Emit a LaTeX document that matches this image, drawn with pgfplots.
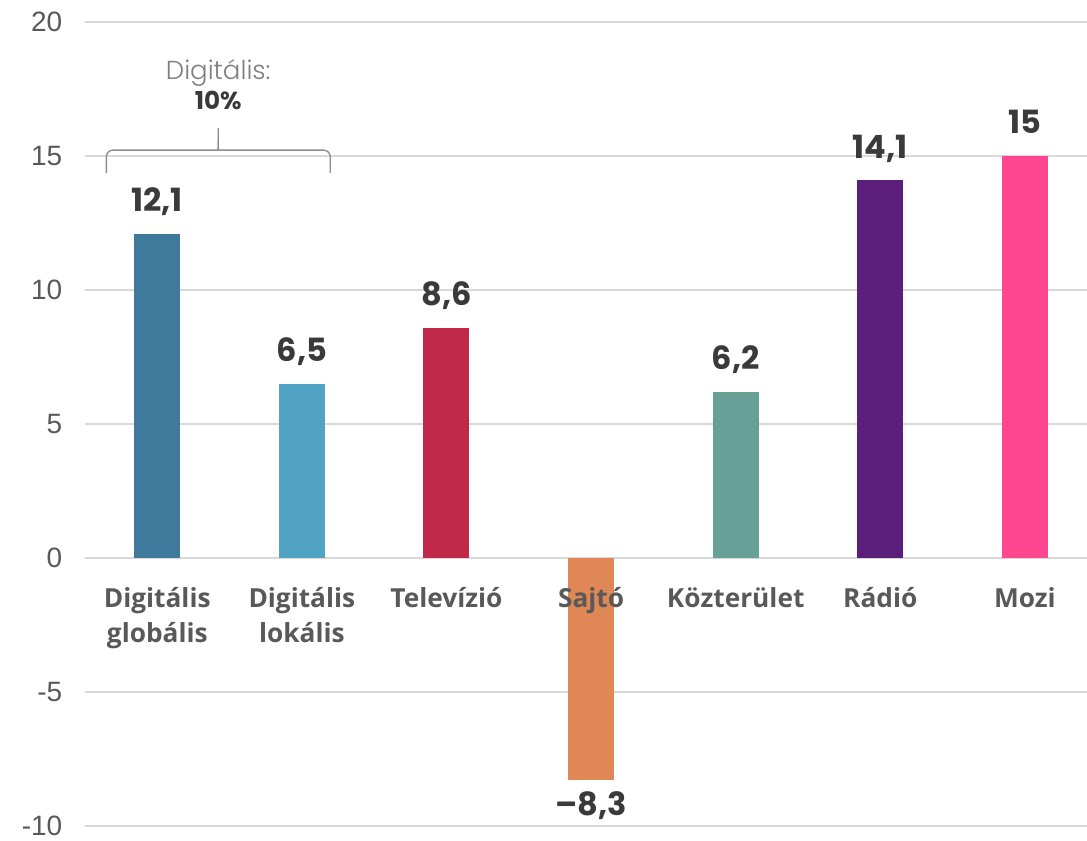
\documentclass[border=0pt]{standalone}
\usepackage{pgfplots}
\pgfplotsset{compat=1.18}
\usepackage{fontspec}
\setmainfont{Liberation Sans}
\newfontfamily\poppins{Poppins}
\newfontfamily\poppinslight{Poppins Light}
\newfontfamily\opensans{Open Sans}
\definecolor{c1}{HTML}{3F7A9C}
\definecolor{c2}{HTML}{51A3C4}
\definecolor{c3}{HTML}{C1294A}
\definecolor{c4}{HTML}{E08756}
\definecolor{c5}{HTML}{67A097}
\definecolor{c6}{HTML}{5B1F7B}
\definecolor{c7}{HTML}{FF4690}
\definecolor{tickgray}{HTML}{595959}
\definecolor{catgray}{HTML}{595959}
\definecolor{gridgray}{HTML}{D9D9D9}
\definecolor{labeldark}{HTML}{3A3A3A}
\definecolor{annogray}{HTML}{7F7F7F}
\definecolor{bracegray}{HTML}{8C8C8C}
\tikzset{catlabel/.style={font=\opensans\bfseries\fontsize{19.7}{26.25}\selectfont, text=catgray, align=center, anchor=north, yshift=-18.5pt}}
\pgfplotsset{
  poslabel/.style={nodes near coords style={anchor=base, yshift=16.5pt}},
  neglabel/.style={nodes near coords style={anchor=base, yshift=-26.5pt}},
}
\begin{document}
\begin{tikzpicture}
\begin{axis}[
  scale only axis, width=751.5pt, height=603pt,
  xmin=-0.5, xmax=6.43, ymin=-10, ymax=20,
  axis x line=middle, axis y line=left, axis line style={draw=none},
  hide obscured x ticks=false, hide obscured y ticks=false,
  major tick length=0pt, tick style={draw=none},
  ytick={-10,-5,0,5,10,15,20}, yticklabels={-10,-5,0,5,10,15,20},
  yticklabel style={font=\fontsize{21}{25}\selectfont, text=tickgray, anchor=east, xshift=-13.5pt},
  xtick={0,1,2,3,4,5,6},
  xticklabels={{Digitális\\globális},{Digitális\\lokális},Televízió,{},Közterület,Rádió,Mozi},
  xticklabel style={catlabel},
  ymajorgrids, grid style={gridgray, line width=1.5pt},
  ybar, bar width=34.5pt,
  every axis plot/.append style={bar shift=0pt, draw=none},
  point meta=explicit symbolic,
  nodes near coords,
  nodes near coords style={font=\poppins\bfseries\fontsize{24}{28}\selectfont, text=labeldark},
  clip=false,
]
\addplot[fill=c1, poslabel] coordinates {(0,12.1) [12,1]};
\addplot[fill=c2, poslabel] coordinates {(1,6.5) [6,5]};
\addplot[fill=c3, poslabel] coordinates {(2,8.6) [8,6]};
\addplot[fill=c4, neglabel] coordinates {(3,-8.3) [–8,3]};
\addplot[fill=c5, poslabel] coordinates {(4,6.2) [6,2]};
\addplot[fill=c6, poslabel] coordinates {(5,14.1) [14,1]};
\addplot[fill=c7, poslabel] coordinates {(6,15) [15]};

% category label drawn over its own (negative) bar
\node[catlabel] at (axis cs:3,0) {Sajtó};

\node[font=\poppinslight\fontsize{19.5}{22}\selectfont, text=annogray, anchor=base] at (axis cs:0.4216,17.84) {Digitális:};
\node[font=\poppins\bfseries\fontsize{18.5}{20}\selectfont, text=labeldark, anchor=base] at (axis cs:0.4216,16.72) {10\%};
\draw[bracegray, line width=1pt, rounded corners=5pt]
  (axis cs:-0.352,14.37) -- (axis cs:-0.352,15.22) -- (axis cs:0.37,15.22)
  [sharp corners] .. controls (axis cs:0.4216,15.22) .. (axis cs:0.4216,15.6) -- (axis cs:0.4216,16.04);
\draw[bracegray, line width=1pt, rounded corners=5pt]
  (axis cs:1.196,14.37) -- (axis cs:1.196,15.22) -- (axis cs:0.4732,15.22)
  [sharp corners] .. controls (axis cs:0.4216,15.22) .. (axis cs:0.4216,15.6);

\coordinate (bbsw) at (rel axis cs:-0.0848,-0.01741);
\coordinate (bbne) at (rel axis cs:1,1.02736);
\end{axis}
\pgfresetboundingbox
\path[use as bounding box] (bbsw) rectangle (bbne);
\end{tikzpicture}
\end{document}
